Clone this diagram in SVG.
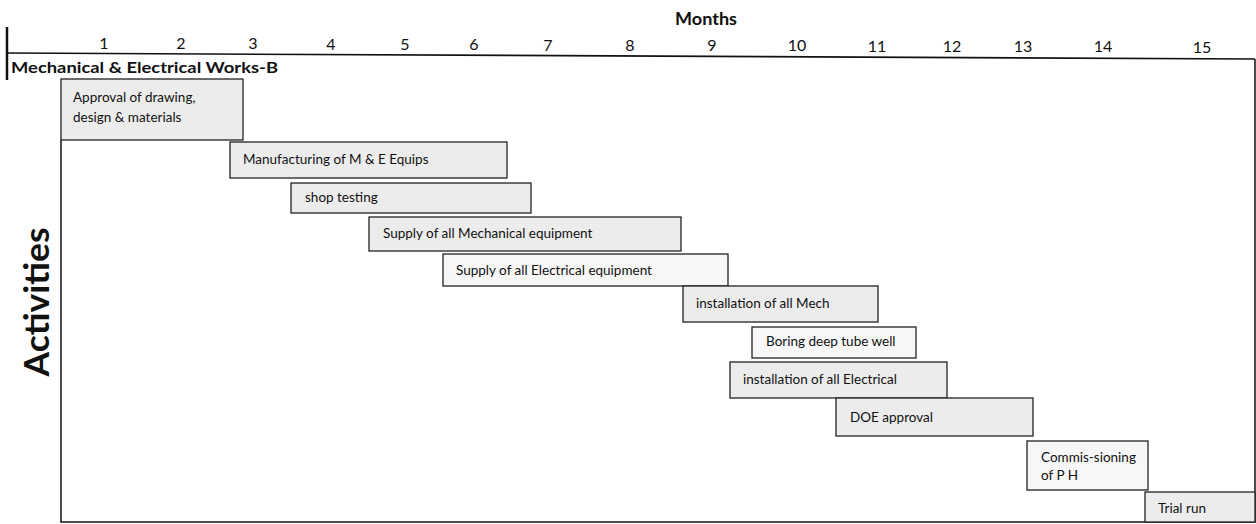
<svg xmlns="http://www.w3.org/2000/svg" width="1256" height="524" viewBox="0 0 1256 524">
<style>
.t{font-family:Lato,"Open Sans","Liberation Sans",sans-serif;fill:#111}
.m{font-size:16px}
.b{font-size:13.5px}
.hd{font-weight:bold}
.bar{fill:#ececec;stroke:#222;stroke-width:1.3}
.barw{fill:#f7f7f7;stroke:#222;stroke-width:1.3}
</style>
<rect width="1256" height="524" fill="#fff"/>
<g id="header">
<line x1="7" y1="27" x2="7" y2="80" stroke="#111" stroke-width="2.5"/>
<line x1="7" y1="53" x2="1255" y2="59" stroke="#111" stroke-width="1.6"/>
<text class="t hd" x="706" y="25" font-size="16.5" text-anchor="middle" textLength="62" lengthAdjust="spacingAndGlyphs">Months</text>
<g class="t m" text-anchor="middle">
<text x="104" y="49">1</text>
<text x="181" y="49">2</text>
<text x="253" y="49">3</text>
<text x="331" y="50">4</text>
<text x="405" y="50">5</text>
<text x="474" y="50">6</text>
<text x="548" y="51">7</text>
<text x="630" y="51">8</text>
<text x="712" y="51">9</text>
<text x="797" y="51">10</text>
<text x="877" y="52">11</text>
<text x="952" y="52">12</text>
<text x="1023" y="52">13</text>
<text x="1103" y="52">14</text>
<text x="1202" y="53">15</text>
</g>
<text class="t hd" x="11" y="73" font-size="16" textLength="267" lengthAdjust="spacingAndGlyphs">Mechanical &amp; Electrical Works-B</text>
</g>
<g id="frame">
<polyline points="61,140 61,522 1255,522 1255,59" fill="none" stroke="#111" stroke-width="1.5"/>
</g>
<text class="t hd" transform="translate(49,302) rotate(-90)" font-size="35" text-anchor="middle" textLength="149" lengthAdjust="spacingAndGlyphs">Activities</text>
<g id="connectors"></g>
<g id="n1"><rect class="bar" x="61" y="79" width="182" height="61"/><text class="t b" x="73" y="102">Approval of drawing,</text><text class="t b" x="73" y="122">design &amp; materials</text></g>
<g id="n2"><rect class="bar" x="230" y="142" width="277" height="36"/><text class="t b" x="243" y="164">Manufacturing of M &amp; E Equips</text></g>
<g id="n3"><rect class="bar" x="291" y="183" width="240" height="30"/><text class="t b" x="305" y="202">shop testing</text></g>
<g id="n4"><rect class="bar" x="369" y="217" width="312" height="34"/><text class="t b" x="383" y="238">Supply of all Mechanical equipment</text></g>
<g id="n5"><rect class="barw" x="443" y="254" width="285" height="32"/><text class="t b" x="456" y="275">Supply of all Electrical equipment</text></g>
<g id="n6"><rect class="bar" x="683" y="286" width="195" height="36"/><text class="t b" x="696" y="308">installation of all Mech</text></g>
<g id="n7"><rect class="barw" x="752" y="327" width="164" height="31"/><text class="t b" x="766" y="346">Boring deep tube well</text></g>
<g id="n8"><rect class="bar" x="730" y="362" width="217" height="36"/><text class="t b" x="743" y="384">installation of all Electrical</text></g>
<g id="n9"><rect class="bar" x="836" y="398" width="197" height="38"/><text class="t b" x="850" y="422">DOE approval</text></g>
<g id="n10"><rect class="barw" x="1027" y="441" width="121" height="49"/><text class="t b" x="1041" y="462">Commis-sioning</text><text class="t b" x="1041" y="480">of P H</text></g>
<g id="n11"><rect class="bar" x="1145" y="492" width="110" height="30"/><text class="t b" x="1158" y="513">Trial run</text></g>
</svg>
